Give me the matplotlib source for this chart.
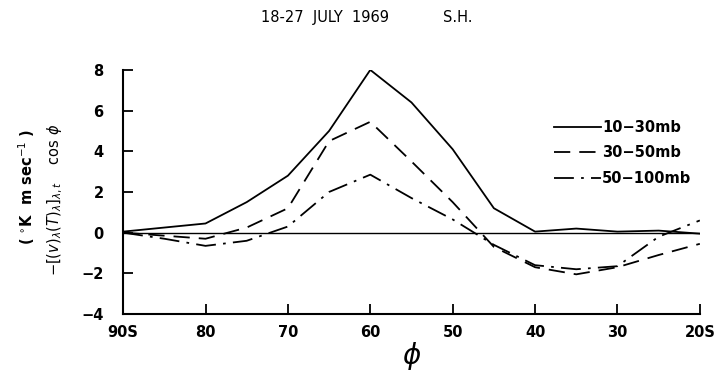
import numpy as np
import matplotlib
matplotlib.use("Agg")
import matplotlib.pyplot as plt

# latitude (deg S) and eddy heat flux for three layers
lat = [90, 85, 80, 75, 70, 65, 60, 55, 50, 45, 40, 35, 30, 25, 20]
flux_10_30 = [0.05, 0.25, 0.45, 1.5, 2.8, 5.0, 8.0, 6.4, 4.1, 1.2, 0.05, 0.2, 0.05, 0.1, -0.05]
flux_30_50 = [0.0, -0.15, -0.3, 0.25, 1.2, 4.5, 5.45, 3.5, 1.5, -0.7, -1.7, -2.05, -1.7, -1.1, -0.55]
flux_50_100 = [0.0, -0.3, -0.65, -0.4, 0.3, 2.0, 2.85, 1.7, 0.65, -0.6, -1.6, -1.8, -1.65, -0.2, 0.6]

xticks = [90, 80, 70, 60, 50, 40, 30, 20]
xlabels = ["90S", "80", "70", "60", "50", "40", "30", "20S"]
yticks = [-4, -2, 0, 2, 4, 6, 8]

fig = plt.figure(figsize=(7.2, 3.82), dpi=100)
ax = fig.add_axes([0.171, 0.178, 0.801, 0.639])

ax.plot(lat, flux_10_30, color="black", lw=1.3, ls="-", label="10\u221230mb")
ax.plot(lat, flux_30_50, color="black", lw=1.3, ls=(0, (9, 5)), label="30\u221250mb")
ax.plot(lat, flux_50_100, color="black", lw=1.3, ls=(0, (11, 4, 1.5, 4)), label="50\u2212100mb")
ax.axhline(0, color="black", lw=1.0)

ax.set_xlim(90, 20)
ax.set_ylim(-4, 8)
ax.set_xticks(xticks)
ax.set_xticklabels(xlabels)
ax.set_yticks(yticks)
ax.set_yticklabels([str(v) if v >= 0 else "\u2212" + str(-v) for v in yticks])

for s in ["top", "right"]:
    ax.spines[s].set_visible(False)
for s in ["left", "bottom"]:
    ax.spines[s].set_linewidth(1.5)
ax.tick_params(direction="in", length=7, width=1.3, labelsize=10.5)
ax.tick_params(axis="x", pad=8)
ax.tick_params(axis="y", pad=14)
for lbl in ax.get_xticklabels() + ax.get_yticklabels():
    lbl.set_fontweight("bold")

ax.set_xlabel(r"$\phi$", fontsize=20, labelpad=0)

leg = ax.legend(loc="upper right", bbox_to_anchor=(1.008, 0.85), frameon=False,
                handlelength=3.2, handletextpad=0.1, labelspacing=0.72,
                prop={"size": 10.5, "weight": "bold"})

fig.text(0.452, 0.953, "18-27  JULY  1969", ha="center", va="center", fontsize=10.5)
fig.text(0.636, 0.953, "S.H.", ha="center", va="center", fontsize=10.5)

fig.text(0.037, 0.51, r"( $^{\circ}$K  m sec$^{-1}$ )", rotation=90,
         ha="center", va="center", fontsize=10.5, fontweight="bold")
fig.text(0.077, 0.476, r"$-\left[(v)_{\lambda}(T)_{\lambda}\right]_{\lambda,t}$    cos $\phi$",
         rotation=90, ha="center", va="center", fontsize=10.5)

fig.savefig("out.png", dpi=100)
